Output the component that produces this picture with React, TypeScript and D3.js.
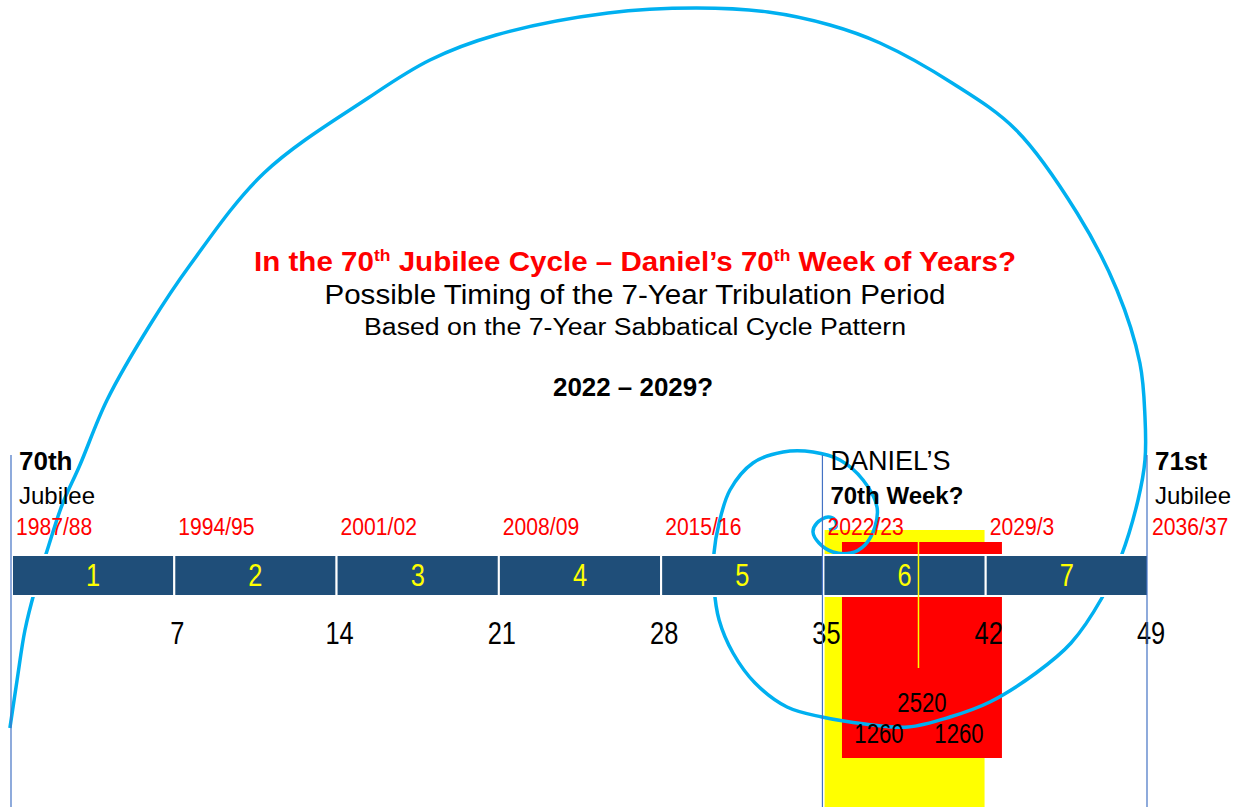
import React, { useRef, useEffect } from 'react';
import * as d3 from 'd3';

// weeks of years inside one jubilee cycle
const weekNumbers = [1, 2, 3, 4, 5, 6, 7];
const sabbathYears = [7, 14, 21, 28, 35, 42, 49];
const cycleStartYears = [0, 7, 14, 21, 28, 35, 42, 49];
const cycleStartLabels = ['1987/88', '1994/95', '2001/02', '2008/09', '2015/16', '2022/23', '2029/3', '2036/37'];

// jubilee / Daniel markers
const markerYears = [0, 35, 49];
const markerTop = ['70th', 'DANIEL\u2019S', '71st'];
const markerBottom = ['Jubilee', '70th Week?', 'Jubilee'];
const markerTopBold = [true, false, true];

// tribulation windows (in years of the cycle)
const yellowWindow = [35.05, 41.95];
const redWindow = [35.8, 42.7];
const midpointYear = 39.1;
const totalDays = 2520;
const halfDays = [1260, 1260];

// golden spiral, [year, y]
const spiral: [number, number][] = [
  [-0.09, 728], [0.22, 680], [0.56, 630], [0.99, 590], [1.55, 548], [2.16, 505], [2.93, 465],
  [4.1, 400], [5.95, 325], [7.68, 265], [10.87, 173], [15.36, 98], [18.03, 60], [20.88, 35],
  [25.71, 13], [29.5, 8], [32.61, 12], [35.28, 25], [37.44, 43], [40.55, 83], [43.31, 130],
  [45.94, 213], [47.66, 290], [48.65, 363], [48.87, 417], [48.87, 460], [48.57, 500],
  [47.83, 557], [47.01, 598], [45.68, 643], [44.17, 673], [42.18, 702], [40.46, 717],
  [38.65, 727], [36.79, 724], [34.94, 717], [33.43, 707], [32.05, 683], [31.1, 653],
  [30.5, 620], [30.28, 587], [30.28, 553], [30.5, 523], [30.97, 490], [31.96, 463],
  [33.26, 452], [34.55, 452], [35.71, 460], [36.71, 480], [37.31, 507], [37.22, 527],
  [36.79, 545], [36.19, 553], [35.41, 552], [34.81, 543], [34.55, 532], [34.72, 523],
  [35.2, 517], [35.5, 520], [35.54, 527], [35.24, 530],
];

const SANS = "'Liberation Sans', Arial, sans-serif";

export default function App() {
  const svgRef = useRef<SVGSVGElement>(null);

  useEffect(() => {
    const width = 1237;
    const height = 807;
    const barTop = 555;
    const barBottom = 596;
    const narrow = 0.82;

    const x = d3.scaleLinear().domain([0, 49]).range([12, 1148]);

    const svg = d3.select(svgRef.current);
    svg.selectAll('*').remove();
    svg.attr('width', width).attr('height', height);

    // yellow and red windows behind the bar
    svg.append('rect')
      .attr('x', x(yellowWindow[0]))
      .attr('y', 530)
      .attr('width', x(yellowWindow[1]) - x(yellowWindow[0]))
      .attr('height', height - 530)
      .attr('fill', '#FFFF00');

    svg.append('rect')
      .attr('x', x(redWindow[0]))
      .attr('y', 542)
      .attr('width', x(redWindow[1]) - x(redWindow[0]))
      .attr('height', 758 - 542)
      .attr('fill', '#FF0000');

    // spiral
    const line = d3.line<[number, number]>()
      .x(d => x(d[0]))
      .y(d => d[1])
      .curve(d3.curveCatmullRom.alpha(0.5));
    svg.append('path')
      .attr('d', line(spiral))
      .attr('fill', 'none')
      .attr('stroke', '#00B0F0')
      .attr('stroke-width', 3.5);

    // the seven weeks bar
    svg.append('g')
      .selectAll('rect')
      .data(weekNumbers)
      .join('rect')
        .attr('x', d => x((d - 1) * 7))
        .attr('y', barTop)
        .attr('width', d => x(d * 7) - x((d - 1) * 7))
        .attr('height', barBottom - barTop)
        .attr('fill', '#1F4E79')
        .attr('stroke', '#fff')
        .attr('stroke-width', 2);

    svg.append('g')
      .selectAll('text')
      .data(weekNumbers)
      .join('text')
        .attr('transform', d => `translate(${(x((d - 1) * 7) + x(d * 7)) / 2},586) scale(${narrow},1)`)
        .attr('text-anchor', 'middle')
        .attr('font-family', SANS)
        .attr('font-size', 31)
        .attr('fill', '#FFFF00')
        .text(d => d);

    // midpoint line
    svg.append('line')
      .attr('x1', x(midpointYear)).attr('x2', x(midpointYear))
      .attr('y1', 542).attr('y2', 668)
      .attr('stroke', '#FFFF00')
      .attr('stroke-width', 1.5);

    // sabbath year numbers
    svg.append('g')
      .selectAll('text')
      .data(sabbathYears)
      .join('text')
        .attr('transform', d => `translate(${x(d) + 3},644) scale(${narrow},1)`)
        .attr('text-anchor', 'middle')
        .attr('font-family', SANS)
        .attr('font-size', 31)
        .attr('fill', '#000')
        .text(d => d);

    // cycle start years in red
    svg.append('g')
      .selectAll('text')
      .data(cycleStartYears)
      .join('text')
        .attr('transform', d => `translate(${x(d) + 4},535) scale(0.88,1)`)
        .attr('font-family', SANS)
        .attr('font-size', 24)
        .attr('fill', '#FF0000')
        .text((d, i) => cycleStartLabels[i]);

    // markers
    const marks = svg.append('g')
      .selectAll('g')
      .data(markerYears)
      .join('g');
    marks.append('text')
      .attr('x', d => x(d) + 7)
      .attr('y', 470)
      .attr('font-family', SANS)
      .attr('font-size', (d, i) => markerTopBold[i] ? 26 : 27)
      .attr('font-weight', (d, i) => markerTopBold[i] ? 'bold' : 'normal')
      .text((d, i) => markerTop[i]);
    marks.append('text')
      .attr('x', d => x(d) + 7)
      .attr('y', 504)
      .attr('font-family', SANS)
      .attr('font-size', 24)
      .attr('font-weight', (d, i) => markerTopBold[i] ? 'normal' : 'bold')
      .text((d, i) => markerBottom[i]);

    // days in the red window
    const redMid = (x(redWindow[0]) + x(redWindow[1])) / 2;
    const redQuarter = (x(redWindow[1]) - x(redWindow[0])) / 4;
    svg.append('text')
      .attr('transform', `translate(${redMid},712) scale(${narrow},1)`)
      .attr('text-anchor', 'middle')
      .attr('font-family', SANS)
      .attr('font-size', 27)
      .text(totalDays);
    svg.append('g')
      .selectAll('text')
      .data(halfDays)
      .join('text')
        .attr('transform', (d, i) => `translate(${redMid + (i === 0 ? -redQuarter : redQuarter) - 3},743) scale(${narrow},1)`)
        .attr('text-anchor', 'middle')
        .attr('font-family', SANS)
        .attr('font-size', 27)
        .text(d => d);

    // titles
    const cx = 635;
    const t1 = svg.append('text')
      .attr('x', cx).attr('y', 271)
      .attr('text-anchor', 'middle')
      .attr('font-family', SANS)
      .attr('font-weight', 'bold')
      .attr('font-size', 27)
      .attr('fill', '#FF0000')
      .attr('textLength', 762)
      .attr('lengthAdjust', 'spacingAndGlyphs');
    t1.append('tspan').text('In the 70');
    t1.append('tspan').attr('dy', -10).attr('font-size', 16).text('th');
    t1.append('tspan').attr('dy', 10).text(' Jubilee Cycle \u2013 Daniel\u2019s 70');
    t1.append('tspan').attr('dy', -10).attr('font-size', 16).text('th');
    t1.append('tspan').attr('dy', 10).text(' Week of Years?');

    svg.append('text')
      .attr('x', cx).attr('y', 304)
      .attr('text-anchor', 'middle')
      .attr('font-family', SANS)
      .attr('font-size', 27)
      .attr('textLength', 621)
      .attr('lengthAdjust', 'spacingAndGlyphs')
      .text('Possible Timing of the 7-Year Tribulation Period');

    svg.append('text')
      .attr('x', cx).attr('y', 335)
      .attr('text-anchor', 'middle')
      .attr('font-family', SANS)
      .attr('font-size', 23)
      .attr('textLength', 542)
      .attr('lengthAdjust', 'spacingAndGlyphs')
      .text('Based on the 7-Year Sabbatical Cycle Pattern');

    svg.append('text')
      .attr('x', 633).attr('y', 396)
      .attr('text-anchor', 'middle')
      .attr('font-family', SANS)
      .attr('font-weight', 'bold')
      .attr('font-size', 26)
      .attr('textLength', 160)
      .attr('lengthAdjust', 'spacingAndGlyphs')
      .text('2022 \u2013 2029?');

    // thin marker lines
    svg.append('g')
      .selectAll('line')
      .data(markerYears)
      .join('line')
        .attr('x1', d => x(d) - 1)
        .attr('x2', d => x(d) - 1)
        .attr('y1', 455)
        .attr('y2', height)
        .attr('stroke', '#4472C4')
        .attr('stroke-width', 1.2);
  }, []);

  return (
    <div style={{ position: 'absolute', left: 0, top: 0, background: '#fff' }}>
      <svg ref={svgRef}></svg>
    </div>
  );
}
